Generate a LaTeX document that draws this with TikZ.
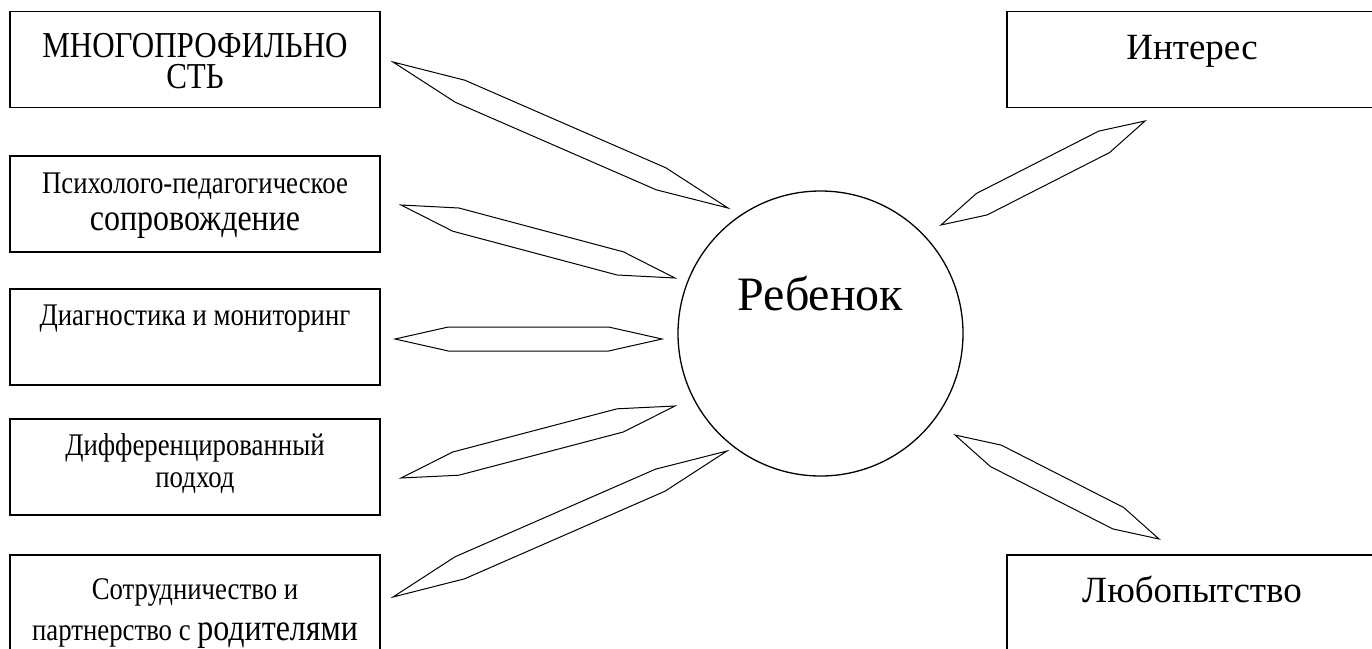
\documentclass[tikz,border=0pt]{standalone}
\usepackage{fontspec}
\setmainfont{Liberation Serif}
\newfontfamily\narrowfont{Liberation Serif}[FakeStretch=0.85]
\usetikzlibrary{positioning,calc}

\newcommand\leftsmall{\narrowfont\fontsize{31.5}{32}\selectfont\lineskiplimit=-100pt}
\newcommand\leftbig{\fontsize{37.6}{37}\selectfont}

\tikzset{
  box/.style={draw, line width=1.3pt, rectangle, minimum width=370pt,
    minimum height=96pt, inner sep=0pt, outer sep=0pt},
  lbl/.style={align=center, anchor=base, inner sep=0pt},
  spike/.style={line width=1pt, line join=miter, to path={
    -- ($(\tikztostart)!0.2!(\tikztotarget)!12pt!90:(\tikztotarget)$)
    -- ($(\tikztotarget)!0.2!(\tikztostart)!12pt!-90:(\tikztostart)$)
    -- (\tikztotarget)
    -- ($(\tikztotarget)!0.2!(\tikztostart)!12pt!90:(\tikztostart)$)
    -- ($(\tikztostart)!0.2!(\tikztotarget)!12pt!-90:(\tikztotarget)$)
    -- cycle}},
}

\begin{document}
\begin{tikzpicture}[x=1pt, y=-1pt]
 \useasboundingbox (0,0) rectangle (1372,648);
 % left column
 \node[box] (mnogo) at (195,59.5) {};
 \node[box, below=48.5pt of mnogo] (psych) {};
 \node[box, below=37pt of psych] (diag) {};
 \node[box, below=34pt of diag] (diff) {};
 \node[box, below=40pt of diff] (sotr) {};
 % right column
 \node[box, right=627pt of mnogo] (interes) {};
 \node[box, right=627pt of sotr] (lyub) {};
 \node[circle, draw, line width=1.3pt, minimum size=285pt, inner sep=0pt] (child) at (820.5,333.5) {};

 % texts (base = baseline of the last line)
 \node[lbl, font={\narrowfont\fontsize{36.5}{31}\selectfont\lineskiplimit=-100pt}] (mnogo-t) at ([yshift=-76.5pt]mnogo.north) {МНОГОПРОФИЛЬНО\\СТЬ};
 \node[lbl, font={\leftsmall\baselineskip=37pt}] (psych-t) at ([yshift=-74pt]psych.north) {Психолого-педагогическое\\{\leftbig сопровождение}};
 \node[lbl, font=\leftsmall] (diag-t) at ([yshift=-36pt]diag.north) {Диагностика и мониторинг};
 \node[lbl, font=\leftsmall] (diff-t) at ([yshift=-68pt]diff.north) {Дифференцированный\\подход};
 \node[lbl, font={\leftsmall\baselineskip=41pt}] (sotr-t) at ([yshift=-85pt]sotr.north) {Сотрудничество и\\партнерство с {\leftbig родителями}};
 \node[lbl, font=\fontsize{37}{40}\selectfont] (interes-t) at ([yshift=-47.5pt]interes.north) {Интерес};
 \node[lbl, font=\fontsize{37}{40}\selectfont] (lyub-t) at ([yshift=-47pt]lyub.north) {Любопытство};
 \node[lbl, font=\fontsize{48}{50}\selectfont] (child-t) at ([yshift=23.5pt]child.center) {Ребенок};

 % spike ends
 \coordinate (mnogo-s) at (393,62);   \coordinate (mnogo-c) at (728,208);
 \coordinate (psych-s) at (401,205);  \coordinate (psych-c) at (675,278);
 \coordinate (diag-s) at (395,339);   \coordinate (diag-c) at (662,339);
 \coordinate (diff-s) at (401,478);   \coordinate (diff-c) at (675,406);
 \coordinate (sotr-s) at (393,597);   \coordinate (sotr-c) at (727,451);
 \coordinate (interes-c) at (941,225); \coordinate (interes-s) at (1145,121);
 \coordinate (lyub-c) at (955,435);   \coordinate (lyub-s) at (1159,539);

 \draw[spike] (mnogo-s) to (mnogo-c);
 \draw[spike] (psych-s) to (psych-c);
 \draw[spike] (diag-s) to (diag-c);
 \draw[spike] (diff-s) to (diff-c);
 \draw[spike] (sotr-s) to (sotr-c);
 \draw[spike] (interes-c) to (interes-s);
 \draw[spike] (lyub-c) to (lyub-s);
\end{tikzpicture}
\end{document}
